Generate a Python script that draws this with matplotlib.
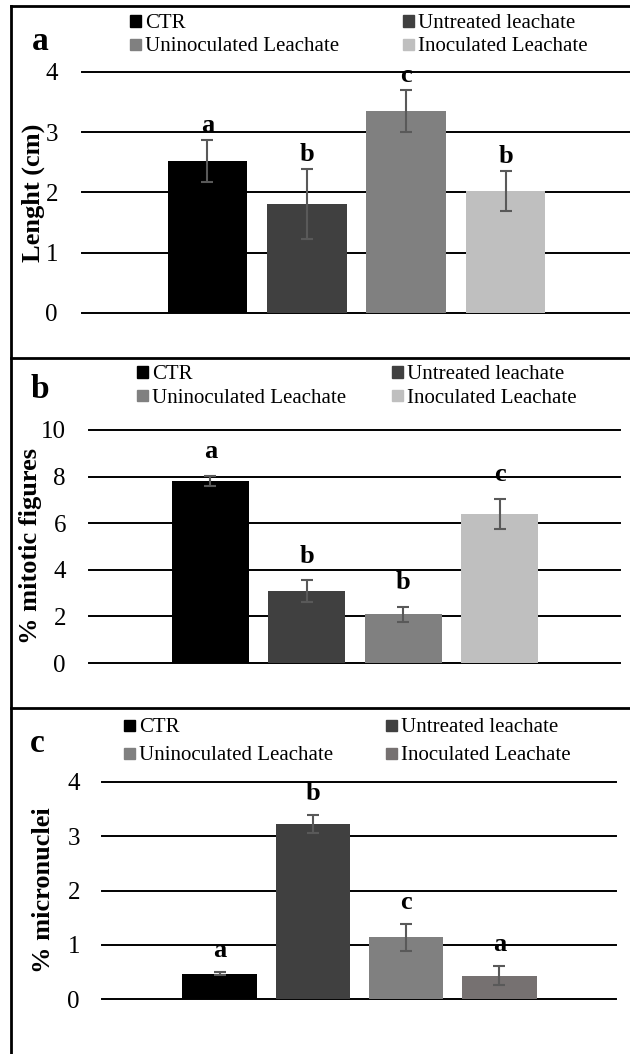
import matplotlib
matplotlib.use("Agg")
import matplotlib.pyplot as plt
from matplotlib.patches import Rectangle
from matplotlib.lines import Line2D

plt.rcParams['font.family'] = ['Liberation Serif', 'DejaVu Serif']

categories = ["CTR", "Untreated leachate", "Uninoculated Leachate", "Inoculated Leachate"]

# Panel a: root length
len_vals = [2.52, 1.81, 3.35, 2.02]
len_err = [0.35, 0.58, 0.35, 0.33]
len_letters = ["a", "b", "c", "b"]

# Panel b: % mitotic figures
mit_vals = [7.81, 3.09, 2.09, 6.39]
mit_err = [0.23, 0.47, 0.33, 0.66]
mit_letters = ["a", "b", "b", "c"]

# Panel c: % micronuclei
mn_vals = [0.47, 3.23, 1.14, 0.43]
mn_err = [0.03, 0.17, 0.25, 0.18]
mn_letters = ["a", "b", "c", "a"]

colors_ab = ["#000000", "#404040", "#808080", "#bfbfbf"]
colors_c = ["#000000", "#404040", "#808080", "#767171"]

W, H = 630, 1054
fig = plt.figure(figsize=(W / 100, H / 100), dpi=100)


def fx(px):
    return px / W


def fy(py):
    return 1 - py / H


def add_ax(x0, x1, ytop, ybot):
    return fig.add_axes([fx(x0), fy(ybot), fx(x1) - fx(x0), fy(ytop) - fy(ybot)])


panels = [
    dict(vals=len_vals, err=len_err, letters=len_letters, colors=colors_ab,
         box=(82, 630, 72, 313), ylim=(0, 4), ticks=[0, 1, 2, 3, 4],
         ylabel="Lenght (cm)", ylab_pos=(33, 193), tag="a", tag_pos=(40, 42),
         leg_rows=(21, 44), leg_cols=(130, 403), let_off=15, pad=24),
    dict(vals=mit_vals, err=mit_err, letters=mit_letters, colors=colors_ab,
         box=(89, 620, 430, 663), ylim=(0, 10), ticks=[0, 2, 4, 6, 8, 10],
         ylabel="% mitotic figures", ylab_pos=(31, 546), tag="b", tag_pos=(40, 390),
         leg_rows=(372, 396), leg_cols=(137, 392), let_off=24, pad=23),
    dict(vals=mn_vals, err=mn_err, letters=mn_letters, colors=colors_c,
         box=(102, 616, 782, 999), ylim=(0, 4), ticks=[0, 1, 2, 3, 4],
         ylabel="% micronuclei", ylab_pos=(44, 890), tag="c", tag_pos=(37, 743),
         leg_rows=(725, 753), leg_cols=(124, 386), let_off=21, pad=22),
]

for p in panels:
    x0, x1, yt, yb = p["box"]
    ax = add_ax(x0, x1, yt, yb)
    xs = list(range(len(categories)))
    ax.bar(xs, p["vals"], width=0.8, color=p["colors"], zorder=3)
    ax.errorbar(xs, p["vals"], yerr=p["err"], fmt="none", ecolor="#595959",
                elinewidth=1.5, capsize=4, capthick=1.5, zorder=4)
    ax.set_xlim(-1.26, 4.25)
    ax.set_ylim(*p["ylim"])
    ax.set_yticks(p["ticks"])
    ax.set_yticklabels([str(t) for t in p["ticks"]], fontsize=18)
    ax.set_xticks([])
    ax.tick_params(axis="y", length=0, pad=p["pad"] * 0.72)
    for s in ax.spines.values():
        s.set_visible(False)
    for t in p["ticks"]:
        ax.axhline(t, color="black", lw=1.4, zorder=2, clip_on=False)
    for xi, v, e, l in zip(xs, p["vals"], p["err"], p["letters"]):
        ax.annotate(l, (xi, v + e), xytext=(0, p["let_off"] * 0.72),
                    textcoords="offset points", ha="center", va="center",
                    fontsize=19, fontweight="bold", annotation_clip=False)
    # y label
    fig.text(fx(p["ylab_pos"][0]), fy(p["ylab_pos"][1]), p["ylabel"], rotation=90,
             ha="center", va="center", fontsize=19, fontweight="bold")
    # panel tag
    fig.text(fx(p["tag_pos"][0]), fy(p["tag_pos"][1]), p["tag"], ha="center",
             va="center", fontsize=24, fontweight="bold")
    # legend
    for i, (name, c) in enumerate(zip(categories, p["colors"])):
        row = p["leg_rows"][i // 2]
        col = p["leg_cols"][i % 2]
        sq = 11
        fig.patches.append(Rectangle((fx(col), fy(row + sq / 2)), fx(sq), sq / H,
                                     transform=fig.transFigure, color=c))
        fig.text(fx(col + sq + 4), fy(row + 7), name, ha="left", va="baseline",
                 fontsize=15)

# panel borders
lw = 2.0
segs = [
    ((11, 630), (6, 6)),
    ((11, 630), (358, 358)),
    ((11, 630), (708, 708)),
    ((11, 11), (6, 1054)),
]
for xs_, ys_ in segs:
    fig.lines.append(Line2D([fx(xs_[0]), fx(xs_[1])], [fy(ys_[0]), fy(ys_[1])],
                            transform=fig.transFigure, color="black", lw=lw))

fig.savefig("out.png", dpi=100)
